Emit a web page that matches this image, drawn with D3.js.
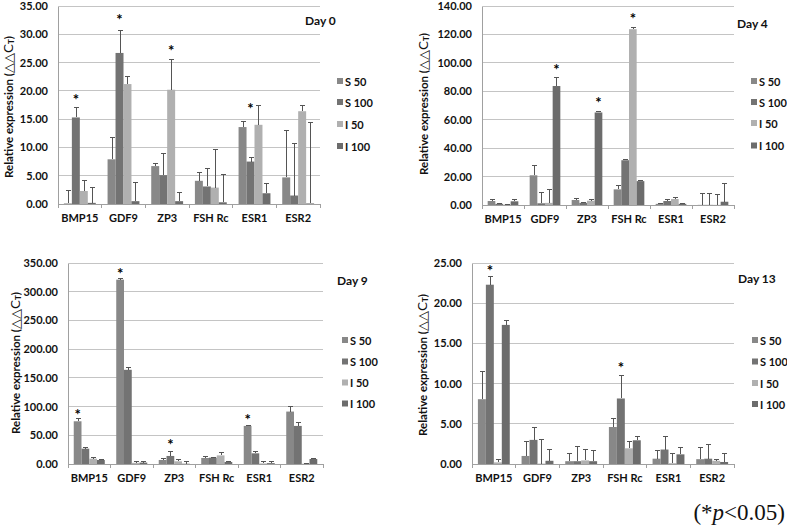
<!DOCTYPE html>
<html><head><meta charset="utf-8">
<script src="https://cdn.jsdelivr.net/npm/d3@7/dist/d3.min.js"></script>
<style>body{margin:0;background:#fff}svg{display:block}</style>
</head><body>
<svg id="c" width="787" height="528"></svg>
<script>
const categories = ["BMP15","GDF9","ZP3","FSH Rc","ESR1","ESR2"];
const seriesNames = ["S 50","S 100","I 50","I 100"];
const dayLabels = ["Day 0","Day 4","Day 9","Day 13"];
const yMax = [35, 140, 350, 25];
const yStep = [5, 20, 50, 5];

// values per category: [S 50, S 100, I 50, I 100]
const day0Values = [[0.1,15.3,2.3,0.2],[7.9,26.7,21.2,0.5],[6.7,5.1,20.2,0.5],[4.1,3.1,2.9,0.3],[13.6,7.5,14.0,1.9],[4.7,1.5,16.4,0.1]];
const day0Errors = [[2.3,1.8,1.9,2.8],[3.8,4.0,1.4,3.3],[0.5,3.8,5.4,1.6],[1.5,3.1,6.8,4.9],[1.0,0.8,3.4,1.7],[8.3,9.2,1.0,14.3]];
const day4Values = [[2.8,0.8,0.3,2.6],[20.9,1.2,1.5,83.7],[3.5,1.5,3.0,65.1],[11.0,31.5,123.7,16.8],[0.8,2.8,4.2,0.8],[0.1,0.1,0.1,2.3]];
const day4Errors = [[1.4,0.4,0.2,1.4],[6.8,7.6,9.4,6.3],[0.9,0.5,1.2,0.9],[2.5,0.5,1.1,0.7],[0.4,1.4,1.2,0.2],[7.9,7.9,7.4,12.9]];
const day9Values = [[74.4,26.7,9.3,7.0],[321,164,2,2.5],[7.0,14,4.7,0.5],[10.5,11,15,3.5],[66.3,18.6,1,1.5],[91.3,66.3,0.5,8.7]];
const day9Errors = [[4.6,1.3,1.2,1.1],[2,3.4,3,1],[2.3,7,2.3,3],[2.3,0.6,4.8,0.5],[0.6,2.3,2.5,2],[8.7,6.4,0.3,1.2]];
const day13Values = [[8.06,22.3,0.2,17.3],[1.0,3.0,0.05,0.4],[0.35,0.35,0.45,0.35],[4.6,8.15,1.95,2.95],[0.66,1.8,0.1,1.2],[0.6,0.66,0.4,0.25]];
const day13Errors = [[3.4,1.0,0.4,0.5],[1.8,1.5,3.05,1.45],[0.93,1.85,1.4,1.3],[1.05,2.9,0.85,0.45],[1.0,1.6,1.2,0.87],[1.5,1.74,0.2,1.05]];

// significance marks: [category, series, height]
const day0Stars = [["BMP15","S 100",18.8],["GDF9","S 100",32.9],["ZP3","I 50",27.4],["ESR1","S 100",17.2]];
const day4Stars = [["GDF9","I 100",96.5],["ZP3","I 100",73.5],["FSH Rc","I 50",132.5]];
const day9Stars = [["BMP15","S 50",89.5],["GDF9","S 50",335],["ZP3","S 100",36],["ESR1","S 50",80.8]];
const day13Stars = [["BMP15","S 100",24.3],["FSH Rc","S 100",12.2]];

const allValues = [day0Values, day4Values, day9Values, day13Values];
const allErrors = [day0Errors, day4Errors, day9Errors, day13Errors];
const allStars = [day0Stars, day4Stars, day9Stars, day13Stars];

const colors = d3.scaleOrdinal(seriesNames, ["#888888","#737373","#b0b0b0","#6c6c6c"]);

const panels = [
  {l:58, r:320, t:6, b:204, tx:8, ty:107, dayX:305, dayY:20, legX:337, legY:[81,102,124,146]},
  {l:482, r:734, t:6, b:205, tx:423, ty:104, dayX:737, dayY:23, legX:751, legY:[81,102,123,145.5]},
  {l:68, r:323, t:263, b:464, tx:15, ty:363, dayX:337, dayY:280, legX:342, legY:[340,361.5,382.5,403.5]},
  {l:472, r:734, t:263, b:464, tx:422, ty:365, dayX:738, dayY:278, legX:752, legY:[340,361.5,383,404]}
];

const svg = d3.select("#c");
const FONT = "Lato, 'Open Sans', sans-serif";

panels.forEach((p, i) => {
  const g = svg.append("g");
  const y = d3.scaleLinear().domain([0, yMax[i]]).range([p.b, p.t]);
  const x0 = d3.scaleBand().domain(categories).range([p.l, p.r]).padding(0);
  const x1 = d3.scaleBand().domain(seriesNames).range([0, x0.bandwidth()]).paddingInner(0).paddingOuter(0.74);
  const ticks = d3.range(0, yMax[i] + yStep[i]/2, yStep[i]);

  // gridlines
  g.append("g").selectAll("line").data(ticks.slice(1)).join("line")
    .attr("x1", p.l).attr("x2", p.r).attr("y1", d => y(d)).attr("y2", d => y(d))
    .attr("stroke", "#c4c4c4").attr("stroke-width", 1).attr("shape-rendering","crispEdges");

  // y axis
  const ya = g.append("g").attr("transform", `translate(${p.l},0)`)
    .call(d3.axisLeft(y).tickValues(ticks).tickFormat(d3.format(".2f")).tickSize(0).tickPadding(10));
  ya.select(".domain").attr("stroke", "#a0a0a0").attr("shape-rendering","crispEdges");
  ya.selectAll("text").attr("font-family", FONT).attr("font-weight", "bold").attr("font-size", "11px").attr("fill", "#111");

  // bars
  const data = [];
  categories.forEach((c, ci) => seriesNames.forEach((s, si) => data.push({c, s, v: allValues[i][ci][si], e: allErrors[i][ci][si]})));
  g.append("g").selectAll("rect").data(data).join("rect")
    .attr("x", d => x0(d.c) + x1(d.s)).attr("width", x1.bandwidth())
    .attr("y", d => y(d.v)).attr("height", d => y(0) - y(d.v))
    .attr("fill", d => colors(d.s));

  // error bars
  const eg = g.append("g").attr("stroke", "#555").attr("stroke-width", 1).attr("shape-rendering","crispEdges");
  data.forEach(d => {
    const cx = Math.round(x0(d.c) + x1(d.s) + x1.bandwidth()/2) + 0.5;
    eg.append("line").attr("x1", cx).attr("x2", cx).attr("y1", y(d.v)).attr("y2", y(d.v + d.e));
    eg.append("line").attr("x1", cx - 2.5).attr("x2", cx + 2.5).attr("y1", y(d.v + d.e)).attr("y2", y(d.v + d.e));
  });

  // x axis
  const xa = g.append("g").attr("transform", `translate(0,${p.b})`)
    .call(d3.axisBottom(x0).tickSize(0).tickPadding(10));
  xa.select(".domain").attr("stroke", "#a0a0a0").attr("shape-rendering","crispEdges");
  xa.selectAll("text").attr("font-family", FONT).attr("font-weight", "bold").attr("font-size", "11px").attr("fill", "#111");
  g.append("g").selectAll("line").data(categories.concat(["__end"])).join("line")
    .attr("x1", d => d === "__end" ? p.r : x0(d)).attr("x2", d => d === "__end" ? p.r : x0(d))
    .attr("y1", p.b).attr("y2", p.b + 4).attr("stroke", "#a0a0a0").attr("shape-rendering","crispEdges");

  // stars
  g.append("g").selectAll("text").data(allStars[i]).join("text")
    .attr("x", d => x0(d[0]) + x1(d[1]) + x1.bandwidth()/2)
    .attr("y", d => y(d[2]) + 7)
    .attr("text-anchor", "middle").attr("font-family", FONT).attr("font-weight", "bold")
    .attr("font-size", "15px").attr("fill", "#000").style("font-variant-emoji", "text").text("*");

  // y title
  const t = g.append("text").attr("transform", `translate(${p.tx},${p.ty}) rotate(-90)`)
    .attr("text-anchor", "middle").attr("dominant-baseline", "central")
    .attr("font-family", FONT).attr("font-weight", "bold").attr("font-size", "11.5px").attr("fill", "#111");
  t.append("tspan").text("Relative expression (");
  t.append("tspan").attr("font-family", "'DejaVu Sans', sans-serif").attr("font-weight","normal").attr("font-size", "13px").text("\u25B3\u25B3C");
  t.append("tspan").attr("font-size", "8px").attr("dy", "3").text("T");
  t.append("tspan").attr("dy", "-3").text(")");

  // day label
  g.append("text").attr("x", p.dayX).attr("y", p.dayY).attr("dominant-baseline", "central")
    .attr("font-family", FONT).attr("font-weight", "bold").attr("font-size", "12px").attr("fill", "#111").text(dayLabels[i]);

  // legend
  const lg = g.append("g").selectAll("g").data(seriesNames).join("g")
    .attr("transform", (d, k) => `translate(${p.legX},${p.legY[k]})`);
  lg.append("rect").attr("x", 0).attr("y", -3).attr("width", 6).attr("height", 6).attr("fill", d => colors(d));
  lg.append("text").attr("x", 8).attr("y", 0).attr("dominant-baseline", "central")
    .attr("font-family", FONT).attr("font-weight", "bold").attr("font-size", "11px").attr("fill", "#111").text(d => d);
});

// footnote
const fn = svg.append("text").attr("x", 785).attr("y", 520).attr("text-anchor", "end")
  .attr("font-family", "'Liberation Serif', 'DejaVu Serif', serif").attr("font-size", "23px").attr("fill", "#111");
fn.append("tspan").text("(*");
fn.append("tspan").attr("font-style", "italic").text("p");
fn.append("tspan").text("<0.05)");
</script>
</body></html>
